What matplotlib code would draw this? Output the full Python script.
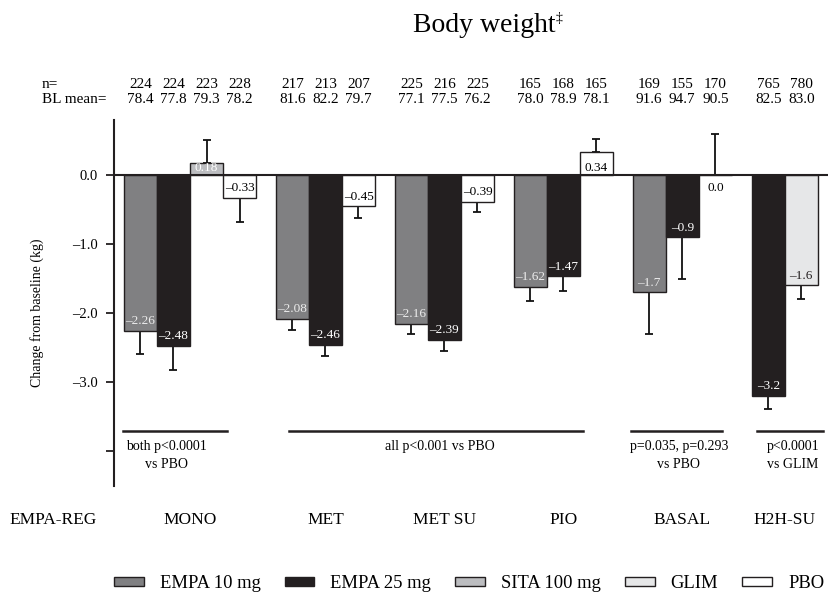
import matplotlib
matplotlib.use("Agg")
import matplotlib.pyplot as plt
import matplotlib.transforms as mtransforms
import numpy as np

plt.rcParams['font.family'] = ['Liberation Serif', 'DejaVu Serif']

# ---------------- data ----------------
treatments = ['EMPA 10 mg', 'EMPA 25 mg', 'SITA 100 mg', 'GLIM', 'PBO']
treat_colors = {'EMPA 10 mg': '#808082', 'EMPA 25 mg': '#231f20',
                'SITA 100 mg': '#bcbdc0', 'GLIM': '#e6e7e8', 'PBO': '#ffffff'}
label_colors = {'EMPA 10 mg': '#ececec', 'EMPA 25 mg': '#ffffff',
                'SITA 100 mg': '#ffffff', 'GLIM': '#231f20', 'PBO': '#000000'}

groups = ['MONO', 'MET', 'MET SU', 'PIO', 'BASAL', 'H2H-SU']

mono_treat = ['EMPA 10 mg', 'EMPA 25 mg', 'SITA 100 mg', 'PBO']
mono_mean = [-2.26, -2.48, 0.18, -0.33]
mono_err = [0.33, 0.35, 0.33, 0.35]
mono_n = [224, 224, 223, 228]
mono_bl = [78.4, 77.8, 79.3, 78.2]

met_treat = ['EMPA 10 mg', 'EMPA 25 mg', 'PBO']
met_mean = [-2.08, -2.46, -0.45]
met_err = [0.17, 0.17, 0.17]
met_n = [217, 213, 207]
met_bl = [81.6, 82.2, 79.7]

metsu_treat = ['EMPA 10 mg', 'EMPA 25 mg', 'PBO']
metsu_mean = [-2.16, -2.39, -0.39]
metsu_err = [0.14, 0.16, 0.15]
metsu_n = [225, 216, 225]
metsu_bl = [77.1, 77.5, 76.2]

pio_treat = ['EMPA 10 mg', 'EMPA 25 mg', 'PBO']
pio_mean = [-1.62, -1.47, 0.34]
pio_err = [0.21, 0.21, 0.19]
pio_n = [165, 168, 165]
pio_bl = [78.0, 78.9, 78.1]

basal_treat = ['EMPA 10 mg', 'EMPA 25 mg', 'PBO']
basal_mean = [-1.7, -0.9, 0.0]
basal_err = [0.60, 0.60, 0.59]
basal_n = [169, 155, 170]
basal_bl = [91.6, 94.7, 90.5]

h2h_treat = ['EMPA 25 mg', 'GLIM']
h2h_mean = [-3.2, -1.6]
h2h_err = [0.19, 0.20]
h2h_n = [765, 780]
h2h_bl = [82.5, 83.0]

group_treat = [mono_treat, met_treat, metsu_treat, pio_treat, basal_treat, h2h_treat]
group_mean = [mono_mean, met_mean, metsu_mean, pio_mean, basal_mean, h2h_mean]
group_err = [mono_err, met_err, metsu_err, pio_err, basal_err, h2h_err]
group_n = [mono_n, met_n, metsu_n, pio_n, basal_n, h2h_n]
group_bl = [mono_bl, met_bl, metsu_bl, pio_bl, basal_bl, h2h_bl]
group_decimals = [2, 2, 2, 2, 1, 1]

sig_texts = ['both p<0.0001\nvs PBO', 'all p<0.001 vs PBO',
             'p=0.035, p=0.293\nvs PBO', 'p<0.0001\nvs GLIM']

# ---------------- figure ----------------
W, H = 830, 596
fig = plt.figure(figsize=(W / 100, H / 100), dpi=100)
ax = fig.add_axes([114 / W, 1 - 486 / H, 714 / W, 366 / H])

def fmt(v, d):
    s = f"{abs(v):.{d}f}"
    return ('\u2013' + s) if v < 0 else s

bar_w = 1.0
gap = 0.6
pos = 0.0
group_centers = []
handles = {}
trans_hdr = mtransforms.blended_transform_factory(ax.transData, fig.transFigure)
for gi, (tr, mn, er, nn, bl, dec) in enumerate(zip(group_treat, group_mean, group_err,
                                                   group_n, group_bl, group_decimals)):
    xs = pos + np.arange(len(tr)) * bar_w
    group_centers.append(xs.mean())
    for x, t, m, e, n_, b in zip(xs, tr, mn, er, nn, bl):
        bc = ax.bar(x, m, width=bar_w, color=treat_colors[t], edgecolor='#231f20',
                    linewidth=1.0, zorder=2)
        handles[t] = bc
        lower = e if m < 0 else 0
        upper = e if m >= 0 else 0
        ax.errorbar(x, m, yerr=[[lower], [upper]], fmt='none', ecolor='#111111',
                    elinewidth=1.3, capsize=3.0, capthick=1.3, zorder=1)
        if m == 0:
            ax.text(x, -0.19, fmt(m, dec), ha='center', va='center', fontsize=9.5,
                    color='#000000', zorder=4)
        elif m > 0:
            ax.text(x, 0.10, fmt(m, dec), ha='center', va='center', fontsize=9.5,
                    color=label_colors[t], zorder=4)
        else:
            ax.text(x, m + 0.14, fmt(m, dec), ha='center', va='center', fontsize=9.5,
                    color=label_colors[t], zorder=4)
        ax.text(x, 1 - 84 / H, str(n_), transform=trans_hdr, ha='center', va='center',
                fontsize=11)
        ax.text(x, 1 - 99 / H, f"{b:.1f}", transform=trans_hdr, ha='center', va='center',
                fontsize=11)
    pos = xs[-1] + bar_w + gap

ax.axhline(0, color='#231f20', linewidth=1.5, zorder=3)

ax.set_xlim(-0.8, 20.81)
ax.set_ylim(-4.51, 0.80)
for s in ['top', 'right', 'bottom']:
    ax.spines[s].set_visible(False)
ax.spines['left'].set_linewidth(1.5)
ax.spines['left'].set_color('#231f20')
ax.set_xticks([])
ax.set_yticks([0, -1, -2, -3, -4])
ax.set_yticklabels(['0.0', '\u20131.0', '\u20132.0', '\u20133.0', ''], fontsize=10.5)
ax.tick_params(axis='y', direction='out', length=5.5, width=1.3, pad=6, color='#231f20')

# significance lines and texts
sig_lines = [(-0.52, 2.62), (4.5, 13.4), (14.85, 17.6), (18.66, 20.65)]
sig_x = [0.78, 9.07, 16.3, 19.75]
for (x0, x1), sx, st in zip(sig_lines, sig_x, sig_texts):
    ax.plot([x0, x1], [-3.71, -3.71], color='#231f20', linewidth=1.8, clip_on=False)
    ax.text(sx, -3.84, st, ha='center', va='top', fontsize=10, linespacing=1.55)

# header rows
fig.text(42 / W, 1 - 84 / H, 'n=', ha='left', va='center', fontsize=11)
fig.text(42 / W, 1 - 99 / H, 'BL mean=', ha='left', va='center', fontsize=11)

# category labels
fig.text(9 / W, 1 - 520 / H, 'EMPA-REG', ha='left', va='center', fontsize=12.5)
for gc, g in zip(group_centers, groups):
    ax.text(gc, 1 - 520 / H, g, transform=trans_hdr, ha='center', va='center',
            fontsize=12.5)

# y label
fig.text(37 / W, 1 - 313 / H, 'Change from baseline (kg)', rotation=90,
         ha='center', va='center', fontsize=10)

# title
fig.text(484 / W, 1 - 31.5 / H, 'Body weight', ha='center', va='baseline', fontsize=20)
fig.text(556 / W, 1 - 12 / H, '\u2021', ha='left', va='top', fontsize=10)

# legend
leg = fig.legend([handles[t] for t in treatments], treatments, loc='center',
                 bbox_to_anchor=(469 / W, 1 - 583.5 / H), ncol=5, frameon=False,
                 fontsize=13.4, handlelength=1.6, handleheight=0.32,
                 handletextpad=0.85, columnspacing=1.3, borderaxespad=0)

fig.savefig('out.png', dpi=100)
